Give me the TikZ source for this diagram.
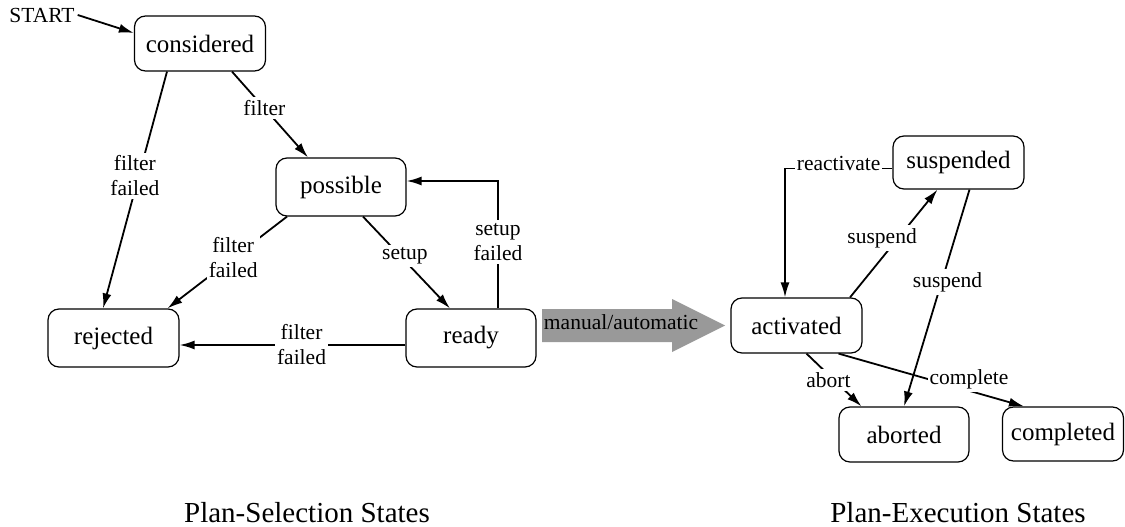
\documentclass[tikz,border=0pt]{standalone}
\usepackage{fontspec}
\setmainfont{Liberation Serif}
\usetikzlibrary{arrows.meta}
\definecolor{bigarrow}{RGB}{153,153,153}
\begin{document}
\begin{tikzpicture}[x=1pt,y=-1pt,
  state/.style={draw, line width=1.2pt, rounded corners=11pt, minimum width=131pt,
    minimum height=56pt, inner sep=0pt, font=\fontsize{25}{30}\selectfont},
  edge/.style={line width=1.8pt, -{Latex[length=15pt,width=9pt]}},
  lbl/.style={fill=white, inner xsep=2pt, inner ysep=3pt,
    font=\fontsize{21.5}{25}\selectfont, align=center},
  plain/.style={inner sep=3pt, font=\fontsize{21.5}{25}\selectfont},
  title/.style={font=\fontsize{29}{34}\selectfont, anchor=base}]
\useasboundingbox (0,0) rectangle (1125,527);

% states
\node[state, minimum height=55pt] (considered) at (200,43.5) {considered};
\node[state, minimum height=58pt, minimum width=130pt] (possible) at (341,187) {possible};
\node[state, minimum height=58pt] (rejected) at (113.5,338) {rejected};
\node[state, minimum height=58pt, minimum width=130pt] (ready) at (471,338) {ready};
\node[state, minimum height=55pt] (activated) at (796.5,325.5) {activated};
\node[state, minimum height=53pt] (suspended) at (958.5,162.5) {suspended};
\node[state, minimum height=55pt, minimum width=130pt] (aborted) at (904,434.5) {aborted};
\node[state, minimum height=54pt, minimum width=121pt] (completed) at (1063,434) {completed};

\node[plain] (start) at (42,15) {START};

% plan-selection transitions
\draw[edge] (start.east) -- ([yshift=10.5pt]considered.west);
\draw[edge] ([xshift=32pt]considered.south) -- node[lbl,pos=0.425]{filter} ([xshift=-33pt]possible.north);
\draw[edge] ([xshift=-33pt]considered.south) -- node[lbl,pos=0.44,xshift=-4pt]{filter\\failed} ([xshift=-10.5pt]rejected.north);
\draw[edge] ([xshift=-54pt]possible.south) -- node[lbl,pos=0.45]{filter\\failed} ([xshift=54pt]rejected.north);
\draw[edge] ([xshift=22pt]possible.south) -- node[lbl,pos=0.43,xshift=4.5pt]{setup} ([xshift=-21pt]ready.north);
\draw[edge] ([xshift=27pt]ready.north) |- node[lbl,pos=0.26]{setup\\failed} ([yshift=6pt]possible.east);
\draw[edge] ([yshift=-7pt]ready.west) -- node[lbl,pos=0.46]{filter\\failed} ([yshift=-7pt]rejected.east);

% big arrow
\fill[bigarrow] (542,309) -- (672,309) -- (672,299) -- (725,325.5) -- (672,352) -- (672,342) -- (542,342) -- cycle;
\node[plain] (manual) at (621,322) {manual/automatic};

% plan-execution transitions
\draw[edge] ([yshift=-6pt]suspended.west) -| node[lbl,pos=0.25,yshift=5pt]{reactivate} ([xshift=-11.5pt]activated.north);
\draw[edge] ([xshift=53.5pt]activated.north) -- node[lbl,pos=0.55,xshift=-16pt]{suspend} ([xshift=-21pt]suspended.south);
\draw[edge] ([xshift=11pt]suspended.south) -- node[lbl,pos=0.427,xshift=6pt]{suspend} (aborted.north);
\draw[edge] ([xshift=10pt]activated.south) -- node[lbl,pos=0.5,xshift=-5.5pt]{abort} ([xshift=-42.5pt]aborted.north);
\draw[edge] ([xshift=42pt]activated.south) -- node[lbl,pos=0.48,xshift=41.5pt]{complete} ([xshift=-39pt]completed.north);

% titles
\node[title] (seltitle) at (307,522) {Plan-Selection States};
\node[title] (exetitle) at (958,522) {Plan-Execution States};
\end{tikzpicture}
\end{document}
